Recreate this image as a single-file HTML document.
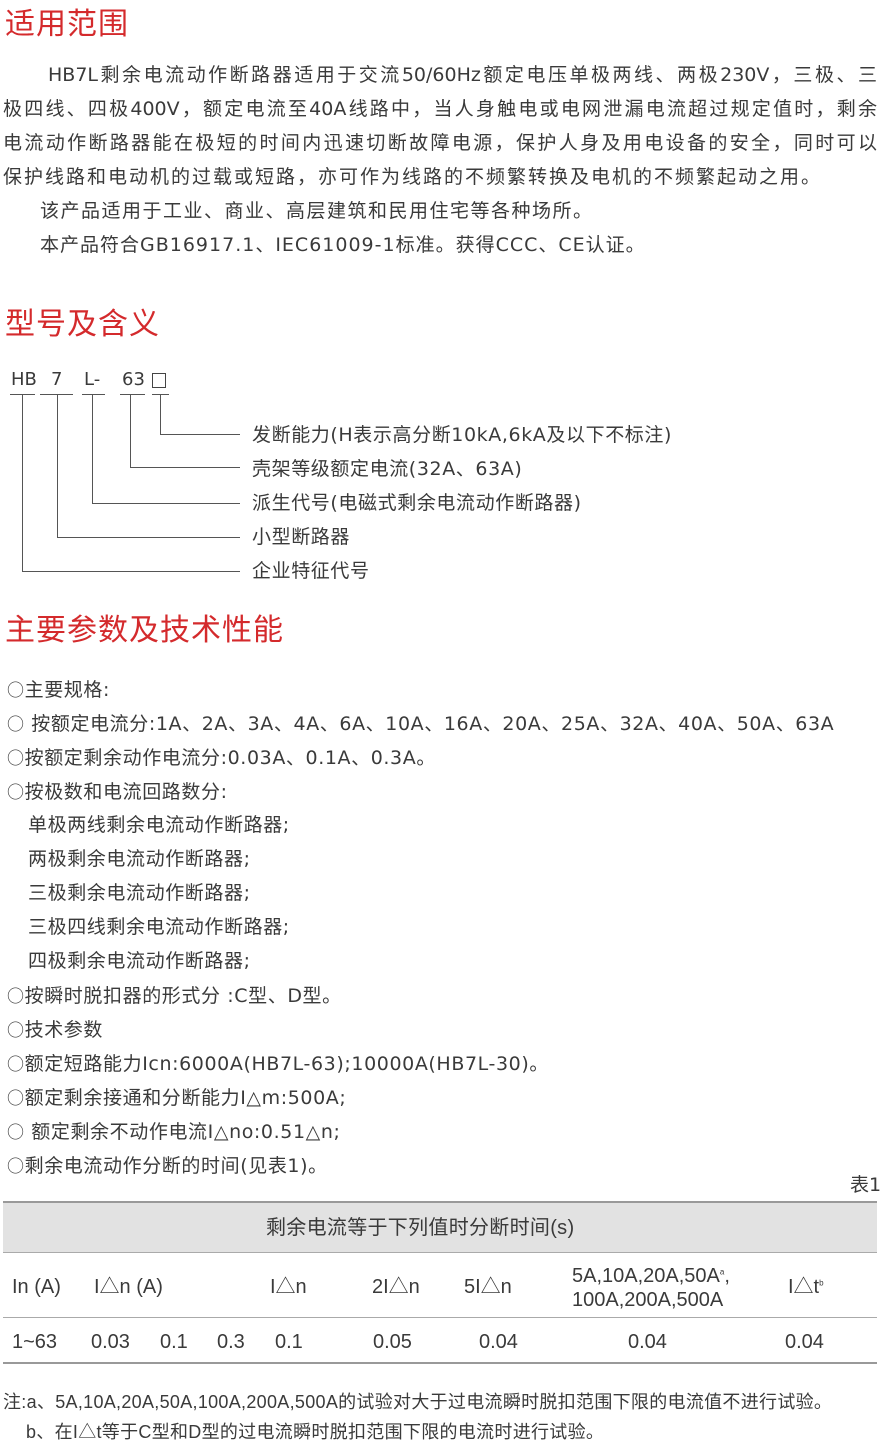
<!DOCTYPE html>
<html><head><meta charset="utf-8"><style>
html,body{margin:0;padding:0;background:#fff;}
body{width:882px;height:1446px;position:relative;overflow:hidden;font-family:"DejaVu Sans","Noto Sans CJK SC",sans-serif;color:#3a3a3a;}
.t{position:absolute;white-space:nowrap;line-height:1;}
.h{color:#d42a2c;font-size:30px;left:5px;font-family:"Liberation Sans","Noto Sans CJK SC",sans-serif;letter-spacing:1px;}
.p{font-size:19px;letter-spacing:0.6px;}
.j{left:3px;width:874px;text-align:justify;text-align-last:justify;white-space:normal;height:20px;letter-spacing:0;}
.l{position:absolute;background:#555;}
.tb{font-size:20px;font-family:"Liberation Sans","Noto Sans CJK SC",sans-serif;}
.o{font-family:"Noto Sans CJK SC",sans-serif;font-size:17px;}
</style></head><body>
<div class="t h" style="top:10px">适用范围</div>
<div class="t p j" style="top:66px;left:48px;width:829px">HB7L剩余电流动作断路器适用于交流50/60Hz额定电压单极两线、两极230V，三极、三</div>
<div class="t p j" style="top:100px">极四线、四极400V，额定电流至40A线路中，当人身触电或电网泄漏电流超过规定值时，剩余</div>
<div class="t p j" style="top:134px">电流动作断路器能在极短的时间内迅速切断故障电源，保护人身及用电设备的安全，同时可以</div>
<div class="t p" style="top:168px;left:3px;letter-spacing:2px">保护线路和电动机的过载或短路，亦可作为线路的不频繁转换及电机的不频繁起动之用。</div>
<div class="t p" style="top:202px;left:40px;letter-spacing:1.5px">该产品适用于工业、商业、高层建筑和民用住宅等各种场所。</div>
<div class="t p" style="top:236px;left:40px;letter-spacing:1px">本产品符合GB16917.1、IEC61009-1标准。获得CCC、CE认证。</div>

<div class="t h" style="top:310px">型号及含义</div>
<div class="t" style="top:371px;left:11px;font-size:18px">HB</div>
<div class="t" style="top:371px;left:51px;font-size:18px">7</div>
<div class="t" style="top:371px;left:84px;font-size:18px">L-</div>
<div class="t" style="top:371px;left:122px;font-size:18px">63</div>
<div style="position:absolute;top:373px;left:152px;width:14px;height:15px;border:1px solid #444;box-sizing:border-box"></div>
<div class="l" style="top:394px;left:10px;width:25px;height:1px"></div>
<div class="l" style="top:394px;left:40px;width:33px;height:1px"></div>
<div class="l" style="top:394px;left:82px;width:23px;height:1px"></div>
<div class="l" style="top:394px;left:120px;width:25px;height:1px"></div>
<div class="l" style="top:394px;left:152px;width:17px;height:1px"></div>
<div class="l" style="top:394px;left:22px;width:1px;height:178px"></div>
<div class="l" style="top:571px;left:22px;width:218px;height:1px"></div>
<div class="l" style="top:394px;left:57px;width:1px;height:144px"></div>
<div class="l" style="top:537px;left:57px;width:183px;height:1px"></div>
<div class="l" style="top:394px;left:92px;width:1px;height:110px"></div>
<div class="l" style="top:503px;left:92px;width:148px;height:1px"></div>
<div class="l" style="top:394px;left:130px;width:1px;height:74px"></div>
<div class="l" style="top:467px;left:130px;width:110px;height:1px"></div>
<div class="l" style="top:394px;left:160px;width:1px;height:41px"></div>
<div class="l" style="top:434px;left:160px;width:80px;height:1px"></div>
<div class="t p" style="top:426px;left:252px">发断能力(H表示高分断10kA,6kA及以下不标注)</div>
<div class="t p" style="top:460px;left:252px">壳架等级额定电流(32A、63A)</div>
<div class="t p" style="top:494px;left:252px">派生代号(电磁式剩余电流动作断路器)</div>
<div class="t p" style="top:528px;left:252px">小型断路器</div>
<div class="t p" style="top:562px;left:252px">企业特征代号</div>

<div class="t h" style="top:616px">主要参数及技术性能</div>
<div class="t p" style="top:680px;left:7px"><span class="o">○</span>主要规格:</div>
<div class="t p" style="top:714px;left:7px"><span class="o">○</span> 按额定电流分:1A、2A、3A、4A、6A、10A、16A、20A、25A、32A、40A、50A、63A</div>
<div class="t p" style="top:748px;left:7px"><span class="o">○</span>按额定剩余动作电流分:0.03A、0.1A、0.3A。</div>
<div class="t p" style="top:782px;left:7px"><span class="o">○</span>按极数和电流回路数分:</div>
<div class="t p" style="top:816px;left:28px">单极两线剩余电流动作断路器;</div>
<div class="t p" style="top:850px;left:28px">两极剩余电流动作断路器;</div>
<div class="t p" style="top:884px;left:28px">三极剩余电流动作断路器;</div>
<div class="t p" style="top:918px;left:28px">三极四线剩余电流动作断路器;</div>
<div class="t p" style="top:952px;left:28px">四极剩余电流动作断路器;</div>
<div class="t p" style="top:986px;left:7px"><span class="o">○</span>按瞬时脱扣器的形式分 :C型、D型。</div>
<div class="t p" style="top:1020px;left:7px"><span class="o">○</span>技术参数</div>
<div class="t p" style="top:1054px;left:7px"><span class="o">○</span>额定短路能力Icn:6000A(HB7L-63);10000A(HB7L-30)。</div>
<div class="t p" style="top:1088px;left:7px"><span class="o">○</span>额定剩余接通和分断能力I△m:500A;</div>
<div class="t p" style="top:1122px;left:7px"><span class="o">○</span> 额定剩余不动作电流I△no:0.51△n;</div>
<div class="t p" style="top:1156px;left:7px"><span class="o">○</span>剩余电流动作分断的时间(见表1)。</div>
<div class="t p" style="top:1176px;left:850px;letter-spacing:0">表1</div>

<div style="position:absolute;top:1201px;left:3px;width:874px;height:52px;background:#e2e2e2;border-top:2px solid #999;border-bottom:1px solid #aaa;box-sizing:border-box"></div>
<div class="t tb" style="top:1218px;left:266px;letter-spacing:0.3px">剩余电流等于下列值时分断时间(s)</div>
<div class="t tb" style="top:1277px;left:12px">In (A)</div>
<div class="t tb" style="top:1277px;left:94px">I△n (A)</div>
<div class="t tb" style="top:1277px;left:270px">I△n</div>
<div class="t tb" style="top:1277px;left:372px">2I△n</div>
<div class="t tb" style="top:1277px;left:464px">5I△n</div>
<div class="t tb" style="top:1266px;left:572px">5A,10A,20A,50A<sup style="font-size:8px">a</sup>,</div>
<div class="t tb" style="top:1290px;left:572px">100A,200A,500A</div>
<div class="t tb" style="top:1277px;left:788px">I△t<sup style="font-size:8px">b</sup></div>
<div class="l" style="top:1317px;left:3px;width:874px;height:1px;background:#aaa"></div>
<div class="t tb" style="top:1332px;left:12px">1~63</div>
<div class="t tb" style="top:1332px;left:91px">0.03</div>
<div class="t tb" style="top:1332px;left:160px">0.1</div>
<div class="t tb" style="top:1332px;left:217px">0.3</div>
<div class="t tb" style="top:1332px;left:275px">0.1</div>
<div class="t tb" style="top:1332px;left:373px">0.05</div>
<div class="t tb" style="top:1332px;left:479px">0.04</div>
<div class="t tb" style="top:1332px;left:628px">0.04</div>
<div class="t tb" style="top:1332px;left:785px">0.04</div>
<div class="l" style="top:1362px;left:3px;width:874px;height:2px;background:#999"></div>

<div class="t" style="top:1393px;left:3px;font-size:18px;font-family:'Liberation Sans','Noto Sans CJK SC',sans-serif;letter-spacing:0.3px">注:a、5A,10A,20A,50A,100A,200A,500A的试验对大于过电流瞬时脱扣范围下限的电流值不进行试验。</div>
<div class="t" style="top:1423px;left:26px;font-size:18px;font-family:'Liberation Sans','Noto Sans CJK SC',sans-serif;letter-spacing:0.3px">b、在I△t等于C型和D型的过电流瞬时脱扣范围下限的电流时进行试验。</div>
</body></html>
